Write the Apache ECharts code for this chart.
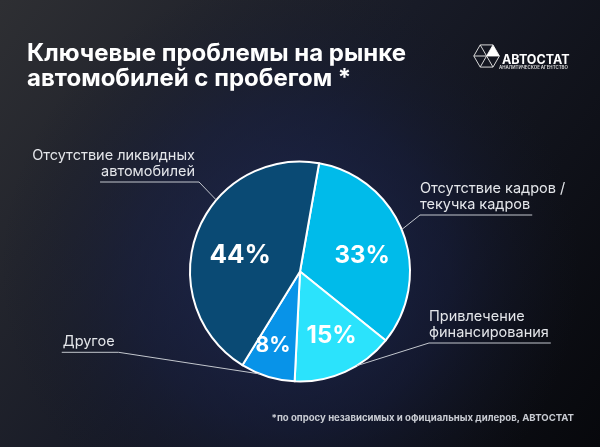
<!DOCTYPE html>
<html><head><meta charset="utf-8">
<script src="https://cdn.jsdelivr.net/npm/echarts@6/dist/echarts.min.js"></script>
<style>html,body{margin:0;padding:0;background:#0d0e13;}#c{width:600px;height:447px;}</style>
</head><body><div id="c"></div>
<script>
// ---- data ----
const categories = ['Отсутствие кадров /\nтекучка кадров', 'Привлечение\nфинансирования', 'Другое', 'Отсутствие ликвидных\nавтомобилей'];
const values = [33, 15, 8, 44];
const titleText = 'Ключевые проблемы на рынке\nавтомобилей с пробегом *';
const footnote = '*по опросу независимых и официальных дилеров, АВТОСТАТ';

// ---- style / layout ----
const colors = ['#00bbea', '#2be3fc', '#0893e8', '#0a4a74'];
const CX = 300, CY = 271.5, R = 110;
const LABEL_FAMILY = 'Inter';
const LABEL_SIZE = 14.5;
// guide geometry: edge angle (deg clockwise from 12 o'clock) and elbow offset from pie centre
const guides = [
  { edge: 67.6, elbow: [120, -56.5], side: 1 },
  { edge: 148.9, elbow: [129, 71.5], side: 1 },
  { edge: 201.3, elbow: [-181.4, 80.8], side: -1 },
  { edge: 310.5, elbow: [-101, -89.5], side: -1 }
];
// inner percentage label placement: [angle deg clockwise from 12 o'clock, distance px]
const innerPos = [[76, 64], [154, 72], [200, 79], [285.4, 62]];
const innerFont = [24, 24, 21, 26];

const mctx = document.createElement('canvas').getContext('2d');
function lastLineWidth(t) {
  mctx.font = LABEL_SIZE + 'px "' + LABEL_FAMILY + '"';
  const lines = t.split('\n');
  return mctx.measureText(lines[lines.length - 1]).width;
}

const chart = echarts.init(document.getElementById('c'), null, { renderer: 'canvas' });

// logo hexagon
const HX = 486.6, HY = 56, HR = 12.8;
const hexPts = [];
for (let i = 0; i < 6; i++) {
  const a = i * Math.PI / 3;
  hexPts.push([HX + HR * Math.cos(a), HY + HR * Math.sin(a)]);
}

const option = {
  backgroundColor: {
    type: 'linear', x: 0, y: 0, x2: 1, y2: 1,
    colorStops: [
      { offset: 0, color: '#2e2f33' },
      { offset: 0.45, color: '#181b27' },
      { offset: 1, color: '#07080c' }
    ]
  },
  title: {
    text: titleText,
    left: 27, top: 41, padding: 0,
    textStyle: { color: '#ffffff', fontSize: 24, fontWeight: 'bold', lineHeight: 25, fontFamily: 'Inter' }
  },
  graphic: [
    {
      type: 'circle', z: -1, silent: true,
      shape: { cx: 290, cy: 270, r: 290 },
      style: {
        fill: {
          type: 'radial', x: 0.5, y: 0.5, r: 0.5,
          colorStops: [
            { offset: 0, color: 'rgba(32,44,92,0.8)' },
            { offset: 0.55, color: 'rgba(24,32,68,0.5)' },
            { offset: 1, color: 'rgba(20,24,40,0)' }
          ]
        }
      }
    },
    {
      type: 'polygon', silent: true,
      shape: { points: hexPts },
      style: { fill: 'none', stroke: '#d8d8d8', lineWidth: 1 }
    },
    {
      type: 'polyline', silent: true,
      shape: { points: [hexPts[0], hexPts[3]] },
      style: { stroke: '#d8d8d8', lineWidth: 1 }
    },
    {
      type: 'polyline', silent: true,
      shape: { points: [hexPts[1], hexPts[4]] },
      style: { stroke: '#d8d8d8', lineWidth: 1 }
    },
    {
      type: 'polyline', silent: true,
      shape: { points: [hexPts[2], hexPts[5]] },
      style: { stroke: '#d8d8d8', lineWidth: 1 }
    },
    {
      type: 'polygon', silent: true,
      shape: { points: [[HX, HY], hexPts[5], hexPts[0]] },
      style: { fill: '#ffffff' }
    },
    {
      type: 'text', silent: true, left: 502, top: 54,
      style: { text: 'АВТОСТАТ', fill: '#ffffff', font: 'bold 12.5px Inter' }
    },
    {
      type: 'text', silent: true, left: 499, top: 66,
      style: { text: 'АНАЛИТИЧЕСКОЕ АГЕНТСТВО', fill: '#d0d0d0', font: 'bold 4.4px Inter' }
    },
    {
      type: 'text', silent: true, right: 26, top: 413,
      style: { text: footnote, fill: '#c9ccd3', font: 'bold 9.6px Inter' }
    }
  ],
  series: [
    {
      type: 'pie', z: 2,
      center: [CX, CY], radius: R,
      startAngle: 80, clockwise: true,
      avoidLabelOverlap: false,
      itemStyle: { borderColor: '#ffffff', borderWidth: 2 },
      label: {
        show: true, position: 'inside',
        formatter: p => p.value + '%',
        color: '#ffffff', fontWeight: 'bold', fontFamily: 'Inter'
      },
      labelLine: { show: false },
      labelLayout: function (p) {
        const ip = innerPos[p.dataIndex];
        const a = ip[0] * Math.PI / 180;
        return { x: CX + ip[1] * Math.sin(a), y: CY - ip[1] * Math.cos(a), align: 'center', verticalAlign: 'middle' };
      },
      emphasis: { disabled: true },
      data: values.map((v, i) => ({
        value: v, name: categories[i],
        itemStyle: { color: colors[i] },
        label: { fontSize: innerFont[i] }
      }))
    },
    {
      type: 'pie', z: 3, silent: true,
      center: [CX, CY], radius: R,
      startAngle: 80, clockwise: true,
      avoidLabelOverlap: false,
      itemStyle: { color: 'rgba(0,0,0,0)', borderWidth: 0 },
      label: {
        show: true, position: 'outside', overflow: 'none',
        formatter: p => p.name,
        color: '#e4e6ea', fontSize: LABEL_SIZE, lineHeight: 16.5, fontFamily: LABEL_FAMILY
      },
      labelLine: { show: true, length: 10, length2: 10, lineStyle: { color: '#c3c7ce', width: 1 } },
      labelLayout: function (p) {
        const g = guides[p.dataIndex];
        const a = g.edge * Math.PI / 180;
        const ex = CX + R * Math.sin(a), ey = CY - R * Math.cos(a);
        const bx = CX + g.elbow[0], by = CY + g.elbow[1];
        const w = lastLineWidth(categories[p.dataIndex]);
        const ox = g.side > 0 ? bx + w + 2 : bx - w - 5;
        return {
          x: g.side > 0 ? bx : bx - 4,
          y: by - 2,
          align: g.side > 0 ? 'left' : 'right',
          verticalAlign: 'bottom',
          labelLinePoints: [[ex, ey], [bx, by], [ox, by]]
        };
      },
      emphasis: { disabled: true },
      data: values.map((v, i) => ({ value: v, name: categories[i] }))
    }
  ]
};
chart.setOption(option);
</script>
</body></html>
